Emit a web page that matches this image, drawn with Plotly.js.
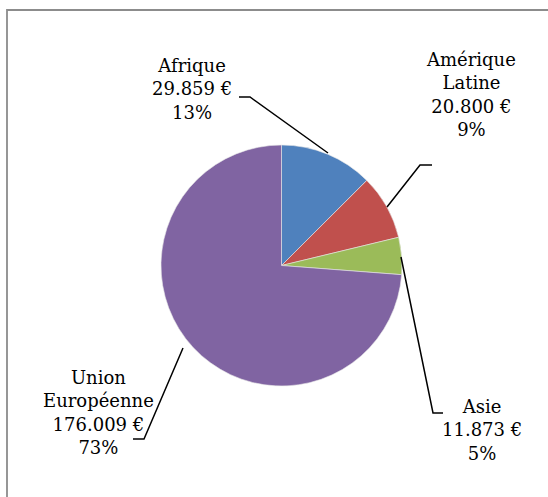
<!DOCTYPE html>
<html>
<head>
<meta charset="utf-8">
<script src="https://cdn.plot.ly/plotly-3.0.1.min.js"></script>
<style>html,body{margin:0;padding:0;background:#fff;}#chart{width:548px;height:497px;}</style>
</head>
<body>
<div id="chart"></div>
<script>
var categories = ["Afrique", "Amérique<br>Latine", "Asie", "Union<br>Européenne"];
var values = [29859, 20800, 11873, 176009];
var valueLabels = ["29.859 €", "20.800 €", "11.873 €", "176.009 €"];
var percentLabels = ["13%", "9%", "5%", "73%"];
var colors = ["#4F81BD", "#C0504D", "#9BBB59", "#8064A2"];

var W = 548, H = 497;
function px(x) { return x / W; }
function py(y) { return 1 - y / H; }
function path(pts) {
  return pts.map(function (p, i) { return (i ? "L" : "M") + px(p[0]) + "," + py(p[1]); }).join(" ");
}

// label block centres (pixels) and leader lines
var labelPos = [[192, 88.5], [471, 94.5], [482, 430], [98, 412.5]];
var leaders = [
  [[239, 97], [250, 97], [328, 153]],
  [[387, 207], [420, 165], [432, 165]],
  [[401, 257], [433, 413], [443, 413]],
  [[183, 348], [144, 439], [133, 439]]
];

var cx = 281.5, cy = 265.5, r = 120.5;

var trace = {
  type: "pie",
  values: values,
  labels: categories,
  sort: false,
  direction: "clockwise",
  rotation: 0,
  textinfo: "none",
  hoverinfo: "none",
  marker: { colors: colors, line: { color: "#e8e8e8", width: 0.6 } },
  domain: { x: [px(cx - r), px(cx + r)], y: [py(cy + r), py(cy - r)] },
  showlegend: false
};

var annotations = categories.map(function (c, i) {
  return {
    xref: "paper", yref: "paper",
    x: px(labelPos[i][0]), y: py(labelPos[i][1]),
    xanchor: "center", yanchor: "middle", align: "center",
    showarrow: false,
    text: c + "<br>" + valueLabels[i] + "<br>" + percentLabels[i],
    font: { family: "DejaVu Serif", size: 18, color: "#000" }
  };
});

var shapes = leaders.map(function (pts) {
  return { type: "path", xref: "paper", yref: "paper", path: path(pts), line: { color: "#000", width: 1.5 } };
});
shapes.push({ type: "path", xref: "paper", yref: "paper", path: path([[7, 510], [7, 10], [560, 10]]), line: { color: "#8c8c8c", width: 1.8 } });

var layout = {
  width: W, height: H,
  margin: { l: 0, r: 0, t: 0, b: 0 },
  paper_bgcolor: "#fff", plot_bgcolor: "#fff",
  annotations: annotations,
  shapes: shapes
};

Plotly.newPlot("chart", [trace], layout, { displayModeBar: false, staticPlot: true });
</script>
</body>
</html>
